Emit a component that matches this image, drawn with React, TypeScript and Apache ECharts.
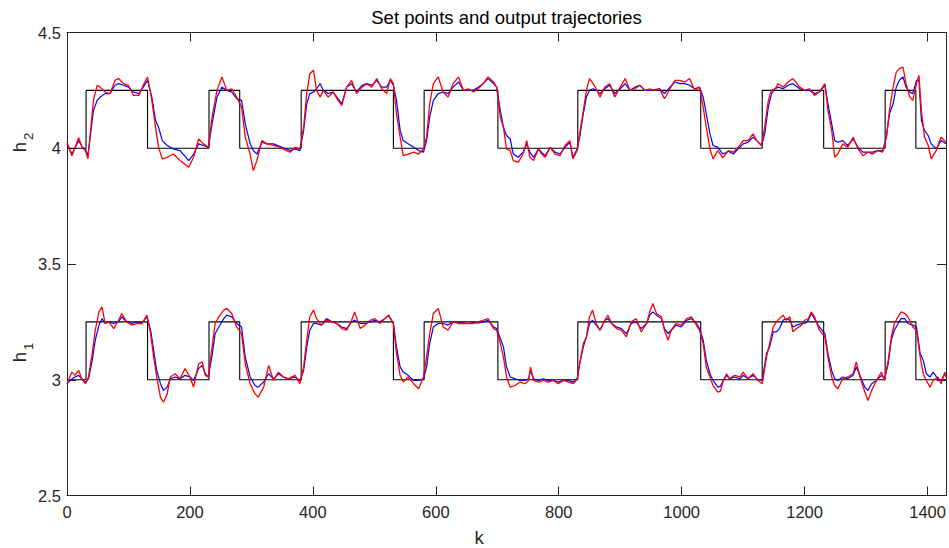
import React, { useEffect, useRef } from "react";
import * as echarts from "echarts";

// ---- set points ----
const spTimes = [0, 31, 131, 231, 281, 381, 531, 581, 701, 831, 1031, 1131, 1231, 1331, 1381, 1430];
const h2Set = [4, 4.25, 4, 4.25, 4, 4.25, 4, 4.25, 4, 4.25, 4, 4.25, 4, 4.25, 4, 4];
const h1Set = [3, 3.25, 3, 3.25, 3, 3.25, 3, 3.25, 3, 3.25, 3, 3.25, 3, 3.25, 3, 3];

// ---- h2 trajectories ----
const kTop = [
  0, 8, 19, 25, 30, 34, 43, 49, 54, 62,
  70, 78, 84, 92, 100, 108, 117, 124, 131, 138,
  144, 149, 155, 163, 173, 184, 198, 206, 214, 222,
  230, 236, 244, 252, 260, 268, 276, 284, 290, 298,
  303, 309, 317, 325, 336, 347, 357, 363, 371, 379,
  385, 390, 395, 401, 406, 412, 417, 425, 433, 441,
  447, 455, 463, 471, 480, 488, 496, 504, 512, 520,
  526, 531, 536, 542, 547, 555, 564, 572, 580, 585,
  590, 596, 604, 612, 620, 628, 637, 645, 653, 661,
  669, 677, 685, 694, 699, 705, 710, 715, 721, 726,
  734, 742, 748, 753, 759, 767, 772, 778, 786, 794,
  802, 810, 818, 823, 830, 834, 840, 845, 850, 856,
  861, 867, 875, 883, 891, 900, 908, 916, 924, 932,
  940, 948, 956, 964, 972, 981, 989, 997, 1005, 1013,
  1021, 1029, 1035, 1040, 1046, 1051, 1059, 1067, 1076, 1084,
  1092, 1100, 1108, 1116, 1122, 1130, 1135, 1141, 1146, 1152,
  1157, 1165, 1173, 1181, 1192, 1200, 1208, 1216, 1224, 1233,
  1238, 1244, 1249, 1254, 1262, 1270, 1279, 1287, 1295, 1303,
  1311, 1319, 1327, 1333, 1338, 1344, 1349, 1354, 1360, 1365,
  1371, 1376, 1382, 1386, 1390, 1395, 1401, 1406, 1414, 1422,
  1430,
];
const h2Blue = [
  4.019, 3.975, 4.033, 4.004, 3.997, 3.968, 4.163, 4.207, 4.221, 4.236,
  4.236, 4.272, 4.279, 4.272, 4.264, 4.243, 4.236, 4.264, 4.293, 4.221,
  4.120, 4.091, 4.033, 4.012, 3.997, 3.990, 3.947, 3.975, 4.019, 4.012,
  4.004, 4.105, 4.221, 4.264, 4.250, 4.243, 4.214, 4.207, 4.105, 4.019,
  3.990, 3.975, 4.026, 4.019, 4.019, 4.007, 3.997, 3.990, 3.997, 3.990,
  4.077, 4.192, 4.236, 4.243, 4.257, 4.279, 4.250, 4.236, 4.243, 4.214,
  4.192, 4.264, 4.279, 4.243, 4.272, 4.279, 4.272, 4.293, 4.264, 4.264,
  4.293, 4.272, 4.207, 4.077, 4.033, 4.019, 4.004, 3.990, 3.983, 4.033,
  4.134, 4.207, 4.236, 4.243, 4.236, 4.264, 4.286, 4.250, 4.250, 4.250,
  4.264, 4.279, 4.301, 4.279, 4.264, 4.163, 4.091, 4.055, 4.040, 3.975,
  3.961, 3.983, 4.019, 3.983, 3.961, 3.997, 3.983, 3.968, 4.004, 3.983,
  3.975, 4.004, 4.026, 3.961, 3.997, 4.048, 4.149, 4.221, 4.250, 4.257,
  4.250, 4.236, 4.257, 4.272, 4.236, 4.257, 4.279, 4.250, 4.264, 4.272,
  4.250, 4.250, 4.253, 4.257, 4.236, 4.264, 4.286, 4.279, 4.279, 4.272,
  4.257, 4.264, 4.221, 4.149, 4.062, 4.012, 4.004, 3.975, 3.987, 3.975,
  3.997, 4.019, 4.026, 4.048, 4.033, 4.012, 4.062, 4.178, 4.236, 4.257,
  4.264, 4.257, 4.272, 4.279, 4.257, 4.250, 4.250, 4.236, 4.243, 4.272,
  4.192, 4.105, 4.033, 4.026, 4.033, 4.012, 4.040, 4.004, 3.983, 3.983,
  3.983, 3.990, 3.990, 4.048, 4.149, 4.192, 4.264, 4.293, 4.308, 4.264,
  4.243, 4.236, 4.293, 4.293, 4.120, 4.077, 4.055, 4.019, 3.997, 4.033,
  4.019,
];
const h2Red = [
  4.026, 3.968, 4.045, 4.001, 3.990, 3.954, 4.207, 4.272, 4.264, 4.243,
  4.236, 4.293, 4.301, 4.279, 4.272, 4.228, 4.228, 4.272, 4.308, 4.207,
  4.091, 4.004, 3.954, 3.961, 3.975, 3.947, 3.918, 3.961, 4.040, 4.019,
  4.004, 4.134, 4.250, 4.308, 4.250, 4.257, 4.221, 4.178, 4.048, 3.975,
  3.903, 3.947, 4.033, 4.019, 4.012, 4.004, 3.990, 3.983, 4.004, 3.997,
  4.091, 4.236, 4.322, 4.337, 4.250, 4.221, 4.250, 4.221, 4.243, 4.207,
  4.185, 4.264, 4.293, 4.236, 4.264, 4.279, 4.264, 4.301, 4.257, 4.236,
  4.301, 4.279, 4.149, 4.048, 3.968, 3.975, 3.983, 3.975, 3.997, 4.048,
  4.192, 4.279, 4.308, 4.243, 4.221, 4.279, 4.308, 4.250, 4.257, 4.243,
  4.257, 4.279, 4.308, 4.286, 4.264, 4.134, 4.091, 3.997, 3.990, 3.947,
  3.939, 3.975, 4.033, 3.961, 3.947, 3.997, 3.975, 3.961, 4.004, 3.975,
  3.968, 4.012, 4.033, 3.954, 3.990, 4.062, 4.163, 4.250, 4.301, 4.279,
  4.257, 4.221, 4.264, 4.279, 4.221, 4.264, 4.301, 4.250, 4.257, 4.272,
  4.250, 4.257, 4.250, 4.257, 4.214, 4.257, 4.293, 4.293, 4.286, 4.301,
  4.250, 4.264, 4.178, 4.091, 3.997, 3.954, 3.990, 3.958, 3.990, 3.983,
  4.004, 4.033, 4.033, 4.062, 4.033, 4.012, 4.091, 4.207, 4.250, 4.257,
  4.279, 4.264, 4.286, 4.301, 4.264, 4.250, 4.257, 4.228, 4.243, 4.279,
  4.163, 4.077, 3.961, 3.975, 4.019, 4.004, 4.048, 3.997, 3.968, 3.983,
  3.975, 3.990, 3.983, 4.048, 4.163, 4.264, 4.329, 4.344, 4.351, 4.279,
  4.221, 4.207, 4.279, 4.315, 4.163, 4.048, 4.012, 3.954, 3.990, 4.048,
  4.026,
];

// ---- h1 trajectories ----
const kBot = [
  0, 8, 13, 19, 24, 30, 35, 41, 46, 52,
  57, 62, 68, 76, 84, 89, 97, 106, 114, 122,
  130, 136, 141, 146, 152, 157, 163, 168, 176, 184,
  192, 200, 206, 214, 220, 225, 230, 236, 241, 247,
  255, 260, 268, 276, 284, 290, 298, 306, 311, 320,
  328, 336, 344, 352, 360, 371, 379, 385, 390, 395,
  401, 406, 414, 422, 431, 439, 447, 455, 463, 468,
  477, 485, 493, 501, 509, 517, 523, 531, 536, 542,
  547, 555, 564, 572, 580, 585, 590, 596, 604, 612,
  620, 628, 637, 645, 653, 661, 669, 677, 685, 694,
  699, 705, 710, 715, 721, 729, 737, 745, 751, 754,
  759, 767, 775, 783, 791, 799, 808, 816, 824, 830,
  834, 840, 845, 850, 855, 861, 867, 875, 880, 886,
  894, 902, 910, 918, 926, 934, 943, 948, 953, 959,
  967, 972, 978, 983, 991, 999, 1008, 1016, 1024, 1029,
  1035, 1040, 1046, 1051, 1059, 1063, 1067, 1073, 1078, 1086,
  1095, 1100, 1108, 1116, 1124, 1131, 1138, 1143, 1149, 1154,
  1159, 1165, 1170, 1176, 1181, 1187, 1195, 1200, 1206, 1211,
  1216, 1224, 1233, 1238, 1244, 1249, 1254, 1262, 1270, 1279,
  1284, 1290, 1298, 1303, 1309, 1317, 1325, 1330, 1336, 1341,
  1346, 1352, 1357, 1363, 1368, 1376, 1382, 1388, 1393, 1398,
  1404, 1409, 1417, 1422, 1428, 1430,
];
const h1Blue = [
  2.983, 3.004, 3.012, 3.019, 3.004, 2.990, 3.004, 3.084, 3.171, 3.236,
  3.264, 3.243, 3.250, 3.243, 3.250, 3.272, 3.250, 3.243, 3.250, 3.246,
  3.272, 3.214, 3.127, 3.040, 2.983, 2.954, 2.968, 3.004, 3.012, 3.004,
  3.019, 3.012, 2.997, 3.048, 3.062, 3.026, 3.012, 3.105, 3.199, 3.228,
  3.264, 3.279, 3.272, 3.243, 3.228, 3.098, 3.012, 2.975, 2.968, 2.990,
  3.026, 3.004, 3.026, 3.012, 3.004, 3.012, 2.997, 3.040, 3.142, 3.214,
  3.243, 3.243, 3.236, 3.264, 3.250, 3.243, 3.228, 3.221, 3.250, 3.257,
  3.243, 3.243, 3.250, 3.257, 3.250, 3.264, 3.279, 3.243, 3.142, 3.055,
  3.033, 3.019, 2.997, 2.997, 3.004, 3.055, 3.156, 3.228, 3.243, 3.243,
  3.236, 3.250, 3.246, 3.246, 3.243, 3.247, 3.246, 3.250, 3.257, 3.228,
  3.221, 3.178, 3.142, 3.055, 3.012, 3.004, 2.997, 2.997, 3.004, 3.040,
  3.004, 2.997, 3.004, 2.997, 2.997, 2.990, 2.997, 2.997, 2.990, 3.004,
  3.069, 3.142, 3.185, 3.243, 3.257, 3.236, 3.214, 3.257, 3.264, 3.243,
  3.228, 3.221, 3.199, 3.243, 3.250, 3.221, 3.243, 3.279, 3.293, 3.279,
  3.264, 3.221, 3.199, 3.214, 3.236, 3.228, 3.257, 3.264, 3.243, 3.221,
  3.171, 3.084, 3.026, 2.997, 2.968, 2.972, 2.994, 3.019, 3.004, 3.012,
  3.004, 3.019, 3.004, 3.019, 3.000, 2.997, 3.113, 3.142, 3.207, 3.207,
  3.221, 3.257, 3.264, 3.257, 3.228, 3.236, 3.243, 3.243, 3.257, 3.286,
  3.264, 3.228, 3.199, 3.113, 3.040, 3.004, 2.997, 3.012, 3.004, 3.019,
  3.055, 3.019, 2.968, 2.954, 2.983, 2.997, 3.019, 3.004, 3.069, 3.171,
  3.214, 3.243, 3.264, 3.264, 3.243, 3.236, 3.228, 3.113, 3.084, 3.026,
  3.012, 3.033, 3.004, 2.997, 3.026, 3.012,
];
const h1Red = [
  2.983, 3.033, 3.019, 3.040, 3.004, 2.983, 3.012, 3.113, 3.214, 3.293,
  3.315, 3.243, 3.250, 3.221, 3.257, 3.286, 3.250, 3.236, 3.243, 3.243,
  3.279, 3.199, 3.098, 3.012, 2.925, 2.903, 2.939, 3.012, 3.026, 3.004,
  3.048, 3.012, 2.968, 3.069, 3.077, 3.019, 3.012, 3.142, 3.243, 3.272,
  3.301, 3.308, 3.286, 3.228, 3.199, 3.069, 2.983, 2.939, 2.925, 2.968,
  3.062, 2.997, 3.033, 3.012, 3.004, 3.019, 2.983, 3.055, 3.171, 3.272,
  3.301, 3.264, 3.236, 3.257, 3.250, 3.243, 3.221, 3.214, 3.257, 3.293,
  3.221, 3.236, 3.257, 3.264, 3.243, 3.264, 3.279, 3.243, 3.113, 3.019,
  2.990, 3.012, 2.983, 2.961, 3.012, 3.098, 3.199, 3.286, 3.308, 3.228,
  3.214, 3.250, 3.243, 3.243, 3.243, 3.243, 3.250, 3.257, 3.264, 3.221,
  3.214, 3.156, 3.098, 3.012, 2.968, 2.975, 2.990, 2.983, 2.997, 3.055,
  2.997, 2.990, 2.997, 2.990, 2.997, 2.983, 2.997, 2.990, 2.983, 3.004,
  3.069, 3.156, 3.185, 3.272, 3.301, 3.243, 3.214, 3.257, 3.279, 3.243,
  3.221, 3.214, 3.185, 3.250, 3.264, 3.207, 3.243, 3.293, 3.329, 3.286,
  3.272, 3.214, 3.171, 3.214, 3.243, 3.236, 3.264, 3.272, 3.236, 3.214,
  3.156, 3.055, 3.012, 2.975, 2.947, 2.951, 2.990, 3.026, 3.004, 3.019,
  3.012, 3.033, 3.004, 3.026, 2.997, 2.983, 3.098, 3.156, 3.228, 3.250,
  3.264, 3.279, 3.257, 3.272, 3.207, 3.221, 3.236, 3.257, 3.264, 3.293,
  3.272, 3.214, 3.185, 3.098, 3.012, 2.975, 2.961, 3.004, 3.012, 3.026,
  3.077, 3.012, 2.947, 2.910, 2.954, 2.997, 3.033, 2.997, 3.084, 3.185,
  3.243, 3.272, 3.293, 3.286, 3.272, 3.228, 3.214, 3.098, 3.026, 2.997,
  2.968, 2.997, 3.012, 2.983, 3.033, 3.012,
];

// ---- axes ----
const xMin = 0;
const xMax = 1430;
const xStep = 200;
const yMin = 2.5;
const yMax = 4.5;
const yStep = 0.5;

const FONT = '"Liberation Sans", Arial, Helvetica, sans-serif';
const AX = "#262626";

function pairs(xs: number[], ys: number[]) {
  const n = Math.min(xs.length, ys.length);
  const out: number[][] = [];
  for (let i = 0; i < n; i++) out.push([xs[i], ys[i]]);
  return out;
}

export default function App() {
  const ref = useRef<HTMLDivElement>(null);
  useEffect(() => {
    if (!ref.current) return;
    const chart = echarts.init(ref.current, undefined, { renderer: "svg" });
    const axisLine = { show: true, onZero: false, lineStyle: { color: AX, width: 1 } };
    const axisTick = { show: true, inside: true, length: 9, lineStyle: { color: AX, width: 1 } };
    const lbl = { fontFamily: FONT, fontSize: 16.5, color: AX };
    const xBase = { type: "value", min: xMin, max: xMax, interval: xStep, axisLine, axisTick, splitLine: { show: false } };
    const yBase = { type: "value", min: yMin, max: yMax, interval: yStep, axisLine, axisTick, splitLine: { show: false } };
    const line = (data: number[][], color: string, width: number, z: number, step?: string) => ({
      type: "line",
      data,
      step: step || false,
      symbol: "none",
      showSymbol: false,
      silent: true,
      z,
      lineStyle: { color, width },
      emphasis: { disabled: true },
    });
    chart.setOption({
      animation: false,
      backgroundColor: "#ffffff",
      grid: { left: 67, right: 3, top: 32.5, bottom: 52.5, containLabel: false },
      xAxis: [
        {
          ...xBase,
          position: "bottom",
          axisLabel: {
            ...lbl,
            margin: 8,
            formatter: (v: number) => (v % xStep === 0 ? String(v) : ""),
          },
        },
        { ...xBase, position: "top", axisLabel: { show: false } },
      ],
      yAxis: [
        { ...yBase, position: "left", axisLabel: { ...lbl, margin: 6 } },
        { ...yBase, position: "right", axisLabel: { show: false } },
      ],
      graphic: [
        {
          type: "text",
          x: 506.5,
          y: 17.5,
          style: { text: "Set points and output trajectories", fontFamily: FONT, fontSize: 18.5, fill: "#000", textAlign: "center", textVerticalAlign: "middle" },
        },
        {
          type: "text",
          x: 479,
          y: 537,
          style: { text: "k", fontFamily: FONT, fontSize: 18.5, fill: AX, textAlign: "center", textVerticalAlign: "middle" },
        },
        {
          type: "text",
          x: 19,
          y: 147,
          rotation: Math.PI / 2,
          style: { text: "h", fontFamily: FONT, fontSize: 18.5, fill: AX, textAlign: "center", textVerticalAlign: "middle" },
        },
        {
          type: "text",
          x: 28,
          y: 136.5,
          rotation: Math.PI / 2,
          style: { text: "2", fontFamily: FONT, fontSize: 13, fill: AX, textAlign: "center", textVerticalAlign: "middle" },
        },
        {
          type: "text",
          x: 19,
          y: 357,
          rotation: Math.PI / 2,
          style: { text: "h", fontFamily: FONT, fontSize: 18.5, fill: AX, textAlign: "center", textVerticalAlign: "middle" },
        },
        {
          type: "text",
          x: 28,
          y: 346.5,
          rotation: Math.PI / 2,
          style: { text: "1", fontFamily: FONT, fontSize: 13, fill: AX, textAlign: "center", textVerticalAlign: "middle" },
        },
      ],
      series: [
        line(pairs(spTimes, h2Set), "#000000", 1.1, 2, "end"),
        line(pairs(spTimes, h1Set), "#000000", 1.1, 2, "end"),
        line(pairs(kTop, h2Blue), "#0000ff", 1.2, 3),
        line(pairs(kBot, h1Blue), "#0000ff", 1.2, 3),
        line(pairs(kTop, h2Red), "#ff0000", 1.3, 4),
        line(pairs(kBot, h1Red), "#ff0000", 1.3, 4),
      ],
    });
    return () => chart.dispose();
  }, []);
  return (
    <div
      ref={ref}
      style={{ position: "absolute", left: 0, top: 0, width: 949, height: 548, background: "#fff" }}
    />
  );
}
